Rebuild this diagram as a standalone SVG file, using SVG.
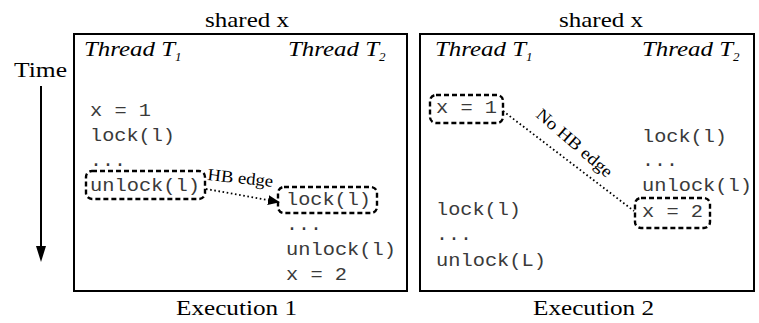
<svg xmlns="http://www.w3.org/2000/svg" width="759" height="323" viewBox="0 0 759 323">
  <style>
    .frame { fill: none; stroke: #000; stroke-width: 2; }
    .lbl { font-size: 21px; }
    .thr { font-size: 21px; font-style: italic; }
    .sub { font-size: 13px; font-style: italic; }
    .code { font-size: 19px; fill: #3a3a3a; }
    .dbox { fill: none; stroke: #000; stroke-width: 2.4; stroke-dasharray: 5 3; }
    .dot { fill: none; stroke: #000; stroke-width: 1.8; stroke-dasharray: 1.6 2.6; }
    .edge { font-size: 17px; }
  </style>
  <defs>
    <marker id="tri" markerWidth="12" markerHeight="10" refX="11" refY="5" orient="auto" markerUnits="userSpaceOnUse">
      <path d="M0,0 L12,5 L0,10 Z" fill="#000"/>
    </marker>
  </defs>

  <g id="time-axis" font-family="Liberation Serif, serif">
    <text class="lbl" x="14" y="77" textLength="53" lengthAdjust="spacingAndGlyphs">Time</text>
    <line x1="41" y1="86" x2="41" y2="247" stroke="#000" stroke-width="2"/>
    <path d="M36,246 L46,246 L41,262 Z" fill="#000"/>
  </g>

  <g id="execution1" font-family="Liberation Serif, serif">
    <text class="lbl" x="205" y="27" textLength="84" lengthAdjust="spacingAndGlyphs">shared x</text>
    <rect class="frame" x="74" y="34" width="333" height="257"/>
    <text class="thr" x="84" y="56" textLength="91" lengthAdjust="spacingAndGlyphs">Thread T</text>
    <text class="sub" x="175" y="61">1</text>
    <text class="thr" x="288" y="56" textLength="91" lengthAdjust="spacingAndGlyphs">Thread T</text>
    <text class="sub" x="379" y="61">2</text>
    <text class="lbl" x="176" y="315" textLength="121" lengthAdjust="spacingAndGlyphs">Execution 1</text>
  </g>

  <g id="code1" font-family="Liberation Mono, monospace">
    <g id="e1-t1-x1"><text class="code" x="90" y="116" textLength="61" lengthAdjust="spacingAndGlyphs">x = 1</text></g>
    <g id="e1-t1-lock"><text class="code" x="90" y="141" textLength="85" lengthAdjust="spacingAndGlyphs">lock(l)</text></g>
    <g id="e1-t1-dots"><text class="code" x="90" y="166" textLength="36" lengthAdjust="spacingAndGlyphs">...</text></g>
    <g id="e1-t1-unlock">
      <rect class="dbox" x="86" y="171" width="119" height="28" rx="6"/>
      <text class="code" x="90" y="191" textLength="110" lengthAdjust="spacingAndGlyphs">unlock(l)</text>
    </g>
    <g id="e1-t2-lock">
      <rect class="dbox" x="278" y="187" width="99" height="26" rx="6"/>
      <text class="code" x="286" y="205" textLength="85" lengthAdjust="spacingAndGlyphs">lock(l)</text>
    </g>
    <g id="e1-t2-dots"><text class="code" x="286" y="230" textLength="36" lengthAdjust="spacingAndGlyphs">...</text></g>
    <g id="e1-t2-unlock"><text class="code" x="286" y="255" textLength="110" lengthAdjust="spacingAndGlyphs">unlock(l)</text></g>
    <g id="e1-t2-x2"><text class="code" x="286" y="280" textLength="61" lengthAdjust="spacingAndGlyphs">x = 2</text></g>
  </g>

  <g id="execution2" font-family="Liberation Serif, serif">
    <text class="lbl" x="559" y="27" textLength="84" lengthAdjust="spacingAndGlyphs">shared x</text>
    <rect class="frame" x="420" y="34" width="334" height="257"/>
    <text class="thr" x="435" y="56" textLength="91" lengthAdjust="spacingAndGlyphs">Thread T</text>
    <text class="sub" x="526" y="61">1</text>
    <text class="thr" x="642" y="56" textLength="91" lengthAdjust="spacingAndGlyphs">Thread T</text>
    <text class="sub" x="733" y="61">2</text>
    <text class="lbl" x="533" y="315" textLength="121" lengthAdjust="spacingAndGlyphs">Execution 2</text>
  </g>

  <g id="code2" font-family="Liberation Mono, monospace">
    <g id="e2-t1-x1">
      <rect class="dbox" x="430" y="95" width="73" height="28" rx="6"/>
      <text class="code" x="436" y="113" textLength="61" lengthAdjust="spacingAndGlyphs">x = 1</text>
    </g>
    <g id="e2-t1-lock"><text class="code" x="436" y="215" textLength="85" lengthAdjust="spacingAndGlyphs">lock(l)</text></g>
    <g id="e2-t1-dots"><text class="code" x="436" y="240" textLength="36" lengthAdjust="spacingAndGlyphs">...</text></g>
    <g id="e2-t1-unlock"><text class="code" x="436" y="266" textLength="110" lengthAdjust="spacingAndGlyphs">unlock(L)</text></g>
    <g id="e2-t2-lock"><text class="code" x="642" y="142" textLength="85" lengthAdjust="spacingAndGlyphs">lock(l)</text></g>
    <g id="e2-t2-dots"><text class="code" x="642" y="166" textLength="36" lengthAdjust="spacingAndGlyphs">...</text></g>
    <g id="e2-t2-unlock"><text class="code" x="642" y="191" textLength="110" lengthAdjust="spacingAndGlyphs">unlock(l)</text></g>
    <g id="e2-t2-x2">
      <rect class="dbox" x="635" y="198" width="75" height="30" rx="6"/>
      <text class="code" x="642" y="217" textLength="61" lengthAdjust="spacingAndGlyphs">x = 2</text>
    </g>
  </g>

  <g id="connectors" font-family="Liberation Serif, serif">
    <line class="dot" x1="206" y1="189" x2="279" y2="202" marker-end="url(#tri)"/>
    <text class="edge" x="207" y="180" textLength="66" lengthAdjust="spacingAndGlyphs" transform="rotate(6 207 180)">HB edge</text>
    <line class="dot" x1="503" y1="111" x2="634" y2="211"/>
    <text class="edge" x="535" y="116" textLength="95" lengthAdjust="spacingAndGlyphs" transform="rotate(41 535 116)">No HB edge</text>
  </g>
</svg>
